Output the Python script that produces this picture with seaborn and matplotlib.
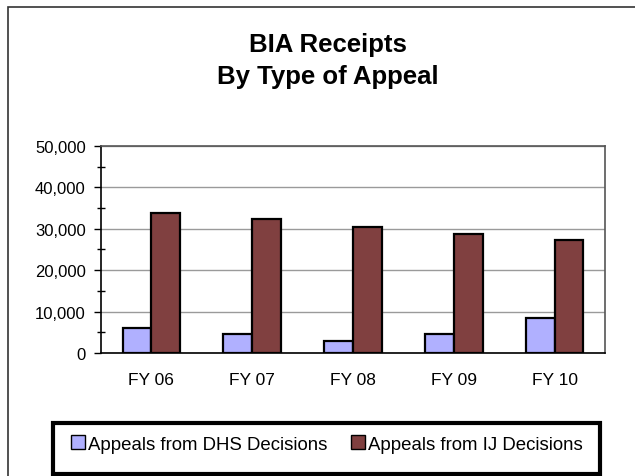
import matplotlib
matplotlib.use("Agg")
import matplotlib.pyplot as plt
import matplotlib.patches as mpatches
from matplotlib.ticker import MultipleLocator, FuncFormatter
import seaborn as sns
import pandas as pd

categories = ["FY 06", "FY 07", "FY 08", "FY 09", "FY 10"]
dhs_values = [6000, 4500, 3000, 4500, 8500]
ij_values = [33700, 32300, 30300, 28700, 27300]
series_names = ["Appeals from DHS Decisions", "Appeals from IJ Decisions"]
colors = ["#b0b0ff", "#804040"]

df = pd.DataFrame({
    "year": categories * 2,
    "value": dhs_values + ij_values,
    "series": [series_names[0]] * len(categories) + [series_names[1]] * len(categories),
})

sns.set_style("white")
plt.rcParams["font.family"] = ["Liberation Sans", "DejaVu Sans"]
plt.rcParams["text.color"] = "black"
plt.rcParams["xtick.color"] = "black"
plt.rcParams["ytick.color"] = "black"
plt.rcParams["axes.labelcolor"] = "black"

fig = plt.figure(figsize=(6.35, 4.77), dpi=100)
ax = fig.add_axes([0.159, 0.258, 0.794, 0.434])

sns.barplot(data=df, x="year", y="value", hue="series", palette=colors,
            width=0.57, gap=0, edgecolor="black", linewidth=1.6,
            saturation=1, ax=ax, legend=False)

ax.set_xlim(-0.5, 4.5)
ax.set_ylim(0, 50000)
ax.set_xlabel("")
ax.set_ylabel("")

ax.yaxis.set_major_locator(MultipleLocator(10000))
ax.yaxis.set_minor_locator(MultipleLocator(5000))
ax.yaxis.set_major_formatter(FuncFormatter(lambda v, p: f"{int(v):,}"))
ax.grid(axis="y", which="major", color="#9a9a9a", linewidth=1)
ax.set_axisbelow(True)

ax.set_xticks(range(len(categories)))
ax.set_xticklabels(categories)
ax.set_xticks([i - 0.5 for i in range(len(categories) + 1)], minor=True)

ax.tick_params(axis="x", which="major", length=0, pad=14, labelsize=12.5)
ax.tick_params(axis="x", which="minor", direction="inout", length=9, width=1, color="black")
ax.tick_params(axis="y", which="major", direction="out", length=5, width=1, color="black",
               pad=6, labelsize=12, left=True)
ax.tick_params(axis="y", which="minor", direction="inout", length=6, width=1, color="black", left=True)

for side in ["left", "bottom"]:
    ax.spines[side].set_color("black")
    ax.spines[side].set_linewidth(1.2)
for side in ["top", "right"]:
    ax.spines[side].set_color("#555555")
    ax.spines[side].set_linewidth(1.2)

fig.text(0.517, 1 - 61 / 477, "BIA Receipts\nBy Type of Appeal", ha="center", va="center",
         fontsize=18.5, fontweight="bold", linespacing=1.45, color="black")

# figure border (left and top visible)
fig.patches.append(mpatches.Rectangle((8 / 635, -0.1), 1.2, 1 - 8 / 477 + 0.1,
                                      transform=fig.transFigure, fill=False,
                                      edgecolor="#333333", linewidth=1.2))

# legend box
fig.patches.append(mpatches.Rectangle((53 / 635, 2 / 477), 547 / 635, 51 / 477,
                                      transform=fig.transFigure, fill=False,
                                      edgecolor="black", linewidth=3))
handles = [mpatches.Patch(facecolor=c, edgecolor="black", linewidth=1) for c in colors]
fig.legend(handles, series_names, loc="center", ncol=2,
           bbox_to_anchor=(327 / 635, 1 - 445 / 477), frameon=False,
           fontsize=13.4, handlelength=0.75, handleheight=0.75, handletextpad=0.15,
           columnspacing=1.3)

fig.savefig("out.png", dpi=100)
